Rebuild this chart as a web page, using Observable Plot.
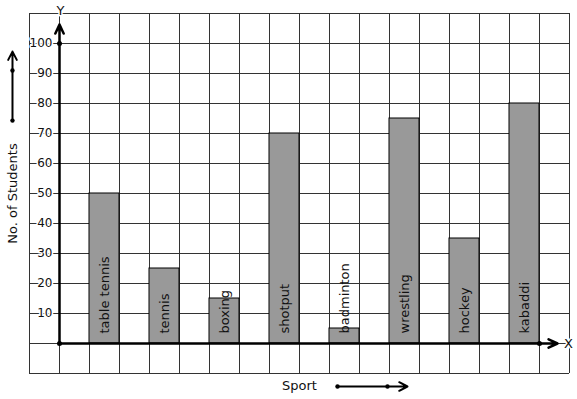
<!DOCTYPE html>
<html>
<head>
<meta charset="utf-8">
<script src="https://cdn.jsdelivr.net/npm/d3@7"></script>
<script src="https://cdn.jsdelivr.net/npm/@observablehq/plot@0.6"></script>
<style>
  html, body { margin: 0; padding: 0; background: #fff; }
</style>
</head>
<body>
<div id="chart"></div>
<script>
// ---- Data ----
const sports = ["table tennis", "tennis", "boxing", "shotput", "badminton", "wrestling", "hockey", "kabaddi"];
const students = [50, 25, 15, 70, 5, 75, 35, 80];
const yTickLabels = [10, 20, 30, 40, 50, 60, 70, 80, 90, 100];
const xGridUnits = d3.range(-1, 18);          // vertical grid lines (one per column)
const yGridValues = d3.range(-10, 111, 10);   // horizontal grid lines
const yAxisLabel = "No. of Students";
const xAxisLabel = "Sport";

// bars sit in every other grid column, starting at column 1
const bars = sports.map((s, i) => ({sport: s, value: students[i], x1: 1 + 2 * i, x2: 2 + 2 * i}));

// ---- Decorations (in data units) ----
const axisTipY = 106.3, axisTipX = 16.6;
const axisDots = [{x: 0, y: 0}, {x: 0, y: 100}, {x: 16, y: 0}];
const leftArrowX = -1.567;
const leftArrow = [{x1: leftArrowX, y1: 74.3, x2: leftArrowX, y2: 97.3}];
const leftDots = [{x: leftArrowX, y: 74.3}, {x: leftArrowX, y: 91}];
const bottomArrowY = -14.33;
const bottomArrow = [{x1: 9.267, y1: bottomArrowY, x2: 11.6, y2: bottomArrowY}];
const bottomDots = [{x: 9.267, y: bottomArrowY}, {x: 10.933, y: bottomArrowY}];

const ink = "#111";

const chart = Plot.plot({
  width: 577,
  height: 399,
  marginLeft: 29,
  marginRight: 8,
  marginTop: 13,
  marginBottom: 26,
  x: {type: "linear", domain: [-1, 17], axis: null},
  y: {type: "linear", domain: [-10, 110], axis: null},
  style: {fontFamily: "DejaVu Sans", background: "white"},
  marks: [
    Plot.gridX({ticks: xGridUnits, stroke: "#333", strokeOpacity: 1, strokeWidth: 1}),
    Plot.gridY({ticks: yGridValues, stroke: "#333", strokeOpacity: 1, strokeWidth: 1}),
    Plot.rectY(bars, {x1: "x1", x2: "x2", y1: 0, y2: "value", fill: "#999999", stroke: "#000", strokeWidth: 1}),
    Plot.text(bars, {x: d => (d.x1 + d.x2) / 2, y: 0, text: "sport", rotate: -90, textAnchor: "start", dy: -10, fontSize: 13, fill: ink}),
    // y tick labels with white halo
    Plot.text(yTickLabels, {x: 0, y: d => d, text: d => String(d), textAnchor: "end", dx: -7, fontSize: 12, fill: ink, stroke: "white", strokeWidth: 3}),
    // axes
    Plot.arrow([{x1: 0, y1: 0, x2: 0, y2: axisTipY}], {x1: "x1", y1: "y1", x2: "x2", y2: "y2", stroke: "#000", strokeWidth: 2.5, headLength: 5.9, headAngle: 50, inset: 0}),
    Plot.arrow([{x1: 0, y1: 0, x2: axisTipX, y2: 0}], {x1: "x1", y1: "y1", x2: "x2", y2: "y2", stroke: "#000", strokeWidth: 2.5, headLength: 5.9, headAngle: 50, inset: 0}),
    Plot.dot(axisDots, {x: "x", y: "y", r: 2.5, fill: "#000", stroke: null}),
    Plot.text(["Y"], {x: 0, y: 111, text: d => d, dx: 1, fontSize: 13, fill: ink, stroke: "white", strokeWidth: 3}),
    Plot.text(["X"], {x: 17, y: 0, text: d => d, dx: -1, fontSize: 13, fill: ink, stroke: "white", strokeWidth: 3}),
    // axis titles with decorative arrows
    Plot.text([yAxisLabel], {x: leftArrowX, y: 50, text: d => d, rotate: -90, fontSize: 13, fill: ink}),
    Plot.arrow(leftArrow, {x1: "x1", y1: "y1", x2: "x2", y2: "y2", stroke: "#000", strokeWidth: 2, headLength: 7, headAngle: 55, inset: 0}),
    Plot.dot(leftDots, {x: "x", y: "y", r: 2.2, fill: "#000", stroke: null}),
    Plot.text([xAxisLabel], {x: 8, y: -14, text: d => d, fontSize: 13, fill: ink}),
    Plot.arrow(bottomArrow, {x1: "x1", y1: "y1", x2: "x2", y2: "y2", stroke: "#000", strokeWidth: 2, headLength: 7, headAngle: 55, inset: 0}),
    Plot.dot(bottomDots, {x: "x", y: "y", r: 2.2, fill: "#000", stroke: null})
  ]
});

document.getElementById("chart").appendChild(chart);
</script>
</body>
</html>
